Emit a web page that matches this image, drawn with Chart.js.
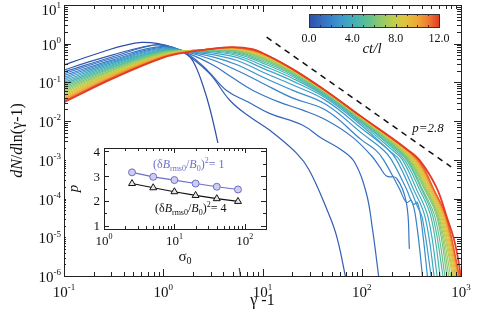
<!DOCTYPE html>
<html>
<head>
<meta charset="utf-8">
<script src="https://cdn.jsdelivr.net/npm/chart.js@4.4.1/dist/chart.umd.min.js"></script>
<style>
  html, body { margin: 0; padding: 0; background: #fff; }
  #wrap { position: relative; width: 477px; height: 318px; }
  #main { position: absolute; left: 0; top: 0; }
  #inset { position: absolute; left: 66px; top: 143px; background: #fff; }
</style>
</head>
<body>
<div id="wrap">
  <canvas id="main" width="477" height="318"></canvas>
  <canvas id="inset" width="206" height="125"></canvas>
</div>
<script>
// snapshot times ct/l, one spectrum each
const snapTimes = [0, 0.5, 1, 1.5, 2, 2.5, 3, 3.5, 4, 4.5, 5, 5.5, 6, 6.5, 7, 7.5, 8, 8.5, 9, 9.5, 10, 10.5, 11, 11.5, 12];

// spectra as [log10(gamma-1), log10(dN/dln(gamma-1))]
const spec00 = [[-1,-0.55],[-0.8,-0.37],[-0.6,-0.2],[-0.4,-0.05],[-0.22,0.035],[-0.05,0.0],[0.1,-0.11],[0.25,-0.3],[0.32,-0.55],[0.4,-1.08],[0.47,-1.68],[0.55,-2.56],[0.63,-3.6],[0.72,-5.0],[0.8,-6.4]];
const spec05 = [[-1,-0.68],[-0.75,-0.47],[-0.5,-0.28],[-0.25,-0.11],[-0.05,-0.02],[0.1,-0.09],[0.25,-0.3],[0.47,-0.78],[0.67,-1.46],[0.85,-1.85],[1.07,-2.23],[1.34,-2.82],[1.47,-3.26],[1.65,-4.29],[1.75,-5.0],[1.85,-6.2]];
const spec10 = [[-1,-0.728],[-0.5,-0.33],[-0.1,-0.04],[0.05,-0.07],[0.25,-0.27],[0.45,-0.7],[0.635,-1.2],[0.85,-1.5],[1.07,-1.8],[1.4,-2.1],[1.6,-2.45],[1.8,-2.75],[1.925,-3.05],[2.045,-3.85],[2.105,-4.73],[2.18,-6.2]];
const spec15 = [[-1,-0.775],[-0.5,-0.37],[0,-0.07],[0.25,-0.25],[0.5,-0.55],[0.7,-0.88],[0.9,-1.2],[1.17,-1.51],[1.4,-1.71],[1.64,-1.97],[1.9,-2.4],[2.1,-2.9],[2.18,-3.18],[2.25,-3.42],[2.35,-3.47],[2.45,-4.11],[2.48,-5.3]];
const spec20 = [[-1,-0.821],[-0.5,-0.41],[0,-0.09],[0.25,-0.22],[0.5,-0.42],[0.75,-0.7],[1,-1.02],[1.3,-1.4],[1.64,-1.72],[2,-2.49],[2.14,-2.75],[2.22,-3],[2.38,-3.75],[2.45,-4.1],[2.5,-4.05],[2.55,-4.6],[2.62,-6.2]];
const spec25 = [[-1,-0.866],[-0.5,-0.44],[0,-0.11],[0.25,-0.21],[0.5,-0.34],[0.75,-0.55],[1,-0.86],[1.3,-1.2],[1.64,-1.57],[2,-2.31],[2.22,-2.75],[2.3,-3],[2.45,-3.75],[2.52,-4.15],[2.56,-4.1],[2.6,-4.6],[2.67,-6.2]];
const spec30 = [[-1,-0.91],[-0.5,-0.47],[0,-0.13],[0.25,-0.205],[0.5,-0.28],[0.75,-0.44],[1,-0.73],[1.3,-1.06],[1.64,-1.47],[2,-2.19],[2.27,-2.75],[2.35,-3],[2.49,-3.75],[2.56,-4.2],[2.61,-4.5],[2.71,-6.2]];
const spec35 = [[-1,-0.953],[-0.5,-0.5],[0,-0.15],[0.25,-0.2],[0.5,-0.24],[0.75,-0.36],[1,-0.63],[1.3,-0.96],[1.64,-1.41],[2,-2.12],[2.3,-2.81],[2.38,-3],[2.52,-3.75],[2.64,-4.5],[2.74,-6.2]];
const spec40 = [[-1,-0.995],[-0.5,-0.53],[0,-0.165],[0.25,-0.195],[0.5,-0.21],[0.75,-0.31],[1,-0.56],[1.3,-0.89],[1.64,-1.37],[2,-2.07],[2.3,-2.73],[2.41,-3],[2.55,-3.75],[2.67,-4.5],[2.77,-6.2]];
const spec45 = [[-1,-1.036],[-0.5,-0.56],[0,-0.18],[0.25,-0.19],[0.5,-0.19],[0.75,-0.27],[1,-0.5],[1.3,-0.84],[1.64,-1.34],[2,-2.03],[2.3,-2.67],[2.43,-3],[2.58,-3.75],[2.7,-4.5],[2.8,-6.2]];
const spec50 = [[-1,-1.076],[-0.5,-0.59],[0,-0.195],[0.25,-0.185],[0.5,-0.175],[0.75,-0.24],[1,-0.46],[1.3,-0.8],[1.64,-1.32],[2,-2.01],[2.3,-2.63],[2.45,-3],[2.6,-3.75],[2.72,-4.5],[2.83,-6.2]];
const spec55 = [[-1,-1.115],[-0.5,-0.61],[0,-0.21],[0.25,-0.18],[0.5,-0.165],[0.75,-0.215],[1,-0.42],[1.3,-0.77],[1.64,-1.3],[2,-1.99],[2.3,-2.59],[2.46,-3],[2.61,-3.75],[2.74,-4.5],[2.85,-6.2]];
const spec60 = [[-1,-1.153],[-0.5,-0.64],[0,-0.225],[0.25,-0.18],[0.5,-0.158],[0.75,-0.195],[1,-0.39],[1.3,-0.745],[1.64,-1.285],[2,-1.97],[2.3,-2.56],[2.47,-3],[2.63,-3.75],[2.76,-4.5],[2.87,-6.2]];
const spec65 = [[-1,-1.19],[-0.5,-0.67],[0,-0.24],[0.25,-0.18],[0.5,-0.152],[0.75,-0.18],[1,-0.37],[1.3,-0.725],[1.64,-1.27],[2,-1.955],[2.3,-2.54],[2.48,-3],[2.64,-3.75],[2.77,-4.5],[2.89,-6.2]];
const spec70 = [[-1,-1.226],[-0.5,-0.69],[0,-0.255],[0.25,-0.18],[0.5,-0.147],[0.75,-0.165],[1,-0.35],[1.3,-0.71],[1.64,-1.26],[2,-1.94],[2.3,-2.52],[2.49,-3],[2.65,-3.75],[2.78,-4.5],[2.91,-6.2]];
const spec75 = [[-1,-1.261],[-0.5,-0.72],[0,-0.27],[0.25,-0.185],[0.5,-0.143],[0.75,-0.155],[1,-0.33],[1.3,-0.695],[1.64,-1.25],[2,-1.93],[2.3,-2.5],[2.5,-3],[2.66,-3.75],[2.79,-4.5],[2.93,-6.2]];
const spec80 = [[-1,-1.295],[-0.5,-0.74],[0,-0.28],[0.25,-0.19],[0.5,-0.14],[0.75,-0.145],[1,-0.31],[1.3,-0.685],[1.64,-1.245],[2,-1.92],[2.3,-2.49],[2.51,-3],[2.67,-3.75],[2.8,-4.5],[2.94,-6.2]];
const spec85 = [[-1,-1.328],[-0.5,-0.76],[0,-0.29],[0.25,-0.19],[0.5,-0.138],[0.75,-0.135],[1,-0.3],[1.3,-0.675],[1.64,-1.24],[2,-1.915],[2.3,-2.48],[2.52,-3],[2.68,-3.75],[2.81,-4.5],[2.95,-6.2]];
const spec90 = [[-1,-1.36],[-0.5,-0.78],[0,-0.3],[0.25,-0.195],[0.5,-0.136],[0.75,-0.128],[1,-0.29],[1.3,-0.67],[1.64,-1.235],[2,-1.91],[2.3,-2.47],[2.53,-3],[2.69,-3.75],[2.82,-4.5],[2.96,-6.2]];
const spec95 = [[-1,-1.391],[-0.5,-0.8],[0,-0.31],[0.25,-0.2],[0.5,-0.134],[0.75,-0.12],[1,-0.28],[1.3,-0.665],[1.64,-1.23],[2,-1.905],[2.3,-2.46],[2.54,-3],[2.7,-3.75],[2.83,-4.5],[2.97,-6.2]];
const spec100 = [[-1,-1.421],[-0.5,-0.82],[0,-0.32],[0.25,-0.2],[0.5,-0.133],[0.75,-0.115],[1,-0.27],[1.3,-0.66],[1.64,-1.228],[2,-1.9],[2.3,-2.45],[2.55,-3],[2.71,-3.75],[2.84,-4.5],[2.98,-6.2]];
const spec105 = [[-1,-1.45],[-0.5,-0.84],[0,-0.33],[0.25,-0.205],[0.5,-0.132],[0.75,-0.11],[1,-0.26],[1.3,-0.657],[1.64,-1.226],[2,-1.895],[2.3,-2.445],[2.555,-3],[2.715,-3.75],[2.845,-4.5],[2.99,-6.2]];
const spec110 = [[-1,-1.47],[-0.5,-0.86],[0,-0.34],[0.25,-0.21],[0.5,-0.131],[0.75,-0.105],[1,-0.25],[1.3,-0.654],[1.64,-1.224],[2,-1.895],[2.3,-2.44],[2.56,-3],[2.72,-3.75],[2.85,-4.5],[2.995,-6.2]];
const spec115 = [[-1,-1.49],[-0.5,-0.87],[0,-0.35],[0.25,-0.21],[0.5,-0.13],[0.75,-0.1],[1,-0.245],[1.3,-0.652],[1.64,-1.222],[2,-1.895],[2.3,-2.435],[2.57,-3],[2.725,-3.75],[2.855,-4.5],[3.0,-6.2]];
const spec120 = [[-1,-1.51],[-0.5,-0.89],[0,-0.36],[0.25,-0.215],[0.5,-0.13],[0.7,-0.09],[0.9,-0.14],[1,-0.24],[1.3,-0.65],[1.64,-1.22],[2,-1.89],[2.3,-2.43],[2.45,-2.72],[2.58,-3],[2.75,-3.7],[2.86,-4.5],[2.93,-5.06],[2.98,-5.7],[3.0,-6.1]];

const spectra = [spec00, spec05, spec10, spec15, spec20, spec25, spec30, spec35, spec40, spec45, spec50, spec55, spec60, spec65, spec70, spec75, spec80, spec85, spec90, spec95, spec100, spec105, spec110, spec115, spec120];

// p = 2.8 guide line (gamma-1, dN/dln)
const guideX = [11, 794];
const guideY = [1.48, 6.6e-4];

// inset: spectral index vs sigma0
const sigma0 = [2.5, 5, 10, 20, 40, 80];
const pWeak = [3.15, 2.97, 2.84, 2.70, 2.57, 2.46];    // (dB/B0)^2 = 1
const pStrong = [2.70, 2.53, 2.37, 2.22, 2.09, 1.98];  // (dB/B0)^2 = 4

const cbarTicks = [0, 4, 8, 12];
const cbarLabels = ['0.0', '4.0', '8.0', '12.0'];

const cmapStops = [[0,'#2f4fa6'],[0.12,'#3673c4'],[0.25,'#3c9bcb'],[0.35,'#42b1b8'],[0.45,'#5dbf92'],[0.55,'#8fc96b'],[0.65,'#bfce4b'],[0.73,'#dfc53d'],[0.83,'#eea937'],[0.92,'#ee7a31'],[1,'#e33b26']];

const SERIF = '"Liberation Serif","DejaVu Serif",serif';

function hexToRgb(h) {
  const n = parseInt(h.slice(1), 16);
  return [(n >> 16) & 255, (n >> 8) & 255, n & 255];
}
function cmap(f) {
  for (let k = 1; k < cmapStops.length; k++) {
    const [p1, c1] = cmapStops[k - 1], [p2, c2] = cmapStops[k];
    if (f <= p2) {
      const u = (f - p1) / (p2 - p1), a = hexToRgb(c1), b = hexToRgb(c2);
      return 'rgb(' + a.map((v, j) => Math.round(v + (b[j] - v) * u)).join(',') + ')';
    }
  }
  return cmapStops[cmapStops.length - 1][1];
}

function logTicks(min, max) {
  const out = [];
  for (let e = Math.floor(Math.log10(min)); e <= Math.ceil(Math.log10(max)); e++) {
    for (let m = 1; m < 10; m++) {
      const v = m * Math.pow(10, e);
      if (v >= min * 0.999 && v <= max * 1.001) out.push({ v, major: m === 1, e });
    }
  }
  return out;
}

// draws a run of text pieces [text, font, dy]
function drawRich(ctx, parts, x, y, align) {
  let w = 0;
  parts.forEach(p => { ctx.font = p[1]; w += ctx.measureText(p[0]).width; });
  let cx = align === 'right' ? x - w : align === 'center' ? x - w / 2 : x;
  ctx.textAlign = 'left';
  ctx.textBaseline = 'alphabetic';
  parts.forEach(p => {
    ctx.font = p[1];
    ctx.fillText(p[0], cx, y + (p[2] || 0));
    cx += ctx.measureText(p[0]).width;
  });
}
function pow10(ctx, exp, x, y, align, size) {
  drawRich(ctx, [['10', size + 'px ' + SERIF], [exp, Math.round(size * 0.62) + 'px ' + SERIF, -size * 0.45]], x, y, align);
}

const mainDeco = {
  id: 'mainDeco',
  afterDraw(chart) {
    const { ctx, chartArea: a, scales: { x, y } } = chart;
    ctx.save();
    ctx.strokeStyle = '#222';
    ctx.fillStyle = '#111';
    ctx.lineWidth = 1;
    ctx.strokeRect(a.left + 0.5, a.top + 0.5, a.right - a.left, a.bottom - a.top);
    ctx.beginPath();
    for (const t of logTicks(x.min, x.max)) {
      const px = Math.round(x.getPixelForValue(t.v)) + 0.5, L = t.major ? 7 : 4;
      ctx.moveTo(px, a.bottom); ctx.lineTo(px, a.bottom - L);
      ctx.moveTo(px, a.top); ctx.lineTo(px, a.top + L);
    }
    for (const t of logTicks(y.min, y.max)) {
      const py = Math.round(y.getPixelForValue(t.v)) + 0.5, L = t.major ? 7 : 4;
      ctx.moveTo(a.left, py); ctx.lineTo(a.left + L, py);
      ctx.moveTo(a.right, py); ctx.lineTo(a.right - L, py);
    }
    ctx.stroke();

    for (const t of logTicks(x.min, x.max)) {
      if (!t.major) continue;
      pow10(ctx, String(t.e), x.getPixelForValue(t.v), 297, 'center', 15);
    }
    for (const t of logTicks(y.min, y.max)) {
      if (!t.major) continue;
      const py = y.getPixelForValue(t.v);
      pow10(ctx, String(t.e), a.left - 3, Math.max(py + 6, 15), 'right', 15);
    }

    // axis titles
    const it = 'italic 16px ' + SERIF, rm = '16px ' + SERIF;
    drawRich(ctx, [['\u03b3', rm], [' -1', rm]], (a.left + a.right) / 2, 305, 'center');
    ctx.save();
    ctx.translate(22, (a.top + a.bottom) / 2);
    ctx.rotate(-Math.PI / 2);
    drawRich(ctx, [['dN', it], ['/', rm], ['d', it], ['ln(\u03b3-1)', rm]], 0, 0, 'center');
    ctx.restore();

    // p = 2.8 annotation
    drawRich(ctx, [['p', 'italic 13px ' + SERIF], ['=2.8', 'italic 13px ' + SERIF]], 428, 132, 'center');

    // colour bar
    const cx0 = 309, cx1 = 439, cy0 = 14, cy1 = 27;
    const g = ctx.createLinearGradient(cx0, 0, cx1, 0);
    cmapStops.forEach(s => g.addColorStop(s[0], s[1]));
    ctx.fillStyle = g;
    ctx.fillRect(cx0, cy0, cx1 - cx0, cy1 - cy0);
    ctx.strokeStyle = '#333';
    ctx.strokeRect(cx0 + 0.5, cy0 + 0.5, cx1 - cx0, cy1 - cy0);
    ctx.beginPath();
    for (let v = 0; v <= 12; v++) {
      const px = Math.round(cx0 + (cx1 - cx0) * v / 12) + 0.5, L = v % 4 === 0 ? 3 : 2;
      ctx.moveTo(px, cy0); ctx.lineTo(px, cy0 + L);
      ctx.moveTo(px, cy1); ctx.lineTo(px, cy1 - L);
    }
    ctx.stroke();
    ctx.fillStyle = '#111';
    cbarTicks.forEach((v, k) => {
      drawRich(ctx, [[cbarLabels[k], '12px ' + SERIF]], cx0 + (cx1 - cx0) * v / 12, 42, 'center');
    });
    drawRich(ctx, [['ct/l', 'italic 15px ' + SERIF]], 372, 53, 'center');
    ctx.restore();
  }
};

const mainSets = spectra.map((spec, i) => ({
  data: spec.map(p => ({ x: Math.pow(10, p[0]), y: Math.pow(10, p[1]) })),
  borderColor: cmap(snapTimes[i] / 12),
  borderWidth: i === spectra.length - 1 ? 1.8 : 1.2,
  pointRadius: 0,
  tension: 0.4,
  order: spectra.length - i + 1
}));
mainSets.push({
  data: guideX.map((v, k) => ({ x: v, y: guideY[k] })),
  borderColor: '#111',
  borderDash: [6, 5],
  borderWidth: 1.5,
  pointRadius: 0,
  tension: 0,
  order: 0
});

new Chart(document.getElementById('main'), {
  type: 'line',
  data: { datasets: mainSets },
  options: {
    responsive: false,
    animation: false,
    devicePixelRatio: 1,
    layout: { padding: { left: 64, top: 5, right: 16, bottom: 42 } },
    plugins: { legend: { display: false }, tooltip: { enabled: false } },
    scales: {
      x: { type: 'logarithmic', min: 0.1, max: 1000, display: false },
      y: { type: 'logarithmic', min: 1e-6, max: 10, display: false }
    }
  },
  plugins: [mainDeco]
});

const insetDeco = {
  id: 'insetDeco',
  afterDraw(chart) {
    const { ctx, chartArea: a, scales: { x, y } } = chart;
    ctx.save();
    ctx.strokeStyle = '#222';
    ctx.fillStyle = '#111';
    ctx.lineWidth = 1;
    ctx.strokeRect(a.left + 0.5, a.top + 0.5, a.right - a.left, a.bottom - a.top);
    ctx.beginPath();
    for (const t of logTicks(x.min, x.max)) {
      const px = Math.round(x.getPixelForValue(t.v)) + 0.5, L = t.major ? 5 : 3;
      ctx.moveTo(px, a.bottom); ctx.lineTo(px, a.bottom - L);
      ctx.moveTo(px, a.top); ctx.lineTo(px, a.top + L);
    }
    for (let v = 1; v <= 4; v += 0.5) {
      const py = Math.round(y.getPixelForValue(v)) + 0.5, L = v % 1 === 0 ? 5 : 3;
      ctx.moveTo(a.left, py); ctx.lineTo(a.left + L, py);
      ctx.moveTo(a.right, py); ctx.lineTo(a.right - L, py);
    }
    ctx.stroke();
    for (const t of logTicks(x.min, x.max)) {
      if (!t.major) continue;
      pow10(ctx, String(t.e), x.getPixelForValue(t.v), 102, 'center', 13);
    }
    for (let v = 1; v <= 4; v++) {
      drawRich(ctx, [[String(v), '13px ' + SERIF]], a.left - 4, y.getPixelForValue(v) + 4.5, 'right');
    }
    drawRich(ctx, [['\u03c3', '15px ' + SERIF], ['0', '10px ' + SERIF, 3]], (a.left + a.right) / 2, 118, 'center');
    ctx.save();
    ctx.translate(12, (a.top + a.bottom) / 2);
    ctx.rotate(-Math.PI / 2);
    drawRich(ctx, [['p', 'italic 15px ' + SERIF]], 0, 0, 'center');
    ctx.restore();

    const f = '12px ' + SERIF, fi = 'italic 12px ' + SERIF, fs = '8px ' + SERIF;
    const label = n => [['(\u03b4', f], ['B', fi], ['rms0', fs, 3], ['/', f], ['B', fi], ['0', fs, 3], [')', f], ['2', fs, -5], ['= ' + n, f]];
    ctx.fillStyle = '#6b6fc7';
    drawRich(ctx, label(1), 87, 25, 'left');
    ctx.fillStyle = '#111';
    drawRich(ctx, label(4), 89, 69, 'left');
    ctx.restore();
  }
};

new Chart(document.getElementById('inset'), {
  type: 'line',
  data: {
    datasets: [
      {
        data: sigma0.map((s, k) => ({ x: s, y: pWeak[k] })),
        borderColor: '#6b6fc7', borderWidth: 1.2,
        pointStyle: 'circle', pointRadius: 3.5, pointBorderWidth: 1,
        pointBackgroundColor: '#cdcdf0', pointBorderColor: '#6b6fc7', tension: 0
      },
      {
        data: sigma0.map((s, k) => ({ x: s, y: pStrong[k] })),
        borderColor: '#111', borderWidth: 1.2,
        pointStyle: 'triangle', pointRadius: 4, pointBorderWidth: 1,
        pointBackgroundColor: '#e6e6e6', pointBorderColor: '#111', tension: 0
      }
    ]
  },
  options: {
    responsive: false,
    animation: false,
    devicePixelRatio: 1,
    layout: { padding: { left: 38, top: 3, right: 6, bottom: 39 } },
    plugins: { legend: { display: false }, tooltip: { enabled: false } },
    scales: {
      x: { type: 'logarithmic', min: 1, max: 200, display: false },
      y: { type: 'linear', min: 0.87, max: 4.13, display: false }
    }
  },
  plugins: [insetDeco]
});
</script>
</body>
</html>
